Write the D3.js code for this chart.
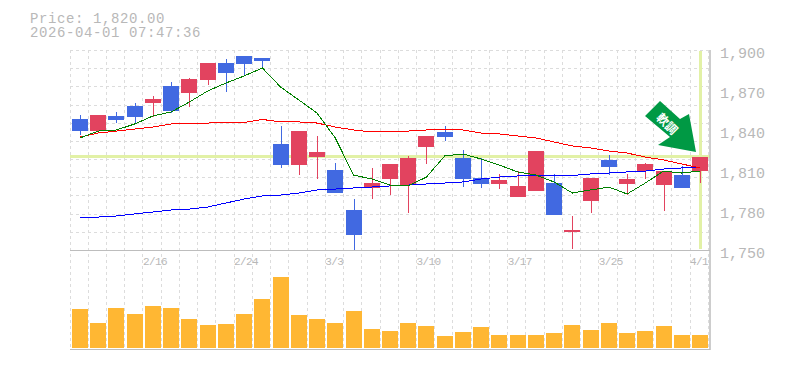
<!DOCTYPE html>
<html>
<head>
<meta charset="utf-8">
<script src="https://cdn.jsdelivr.net/npm/d3@7"></script>
<style>
    html, body { margin: 0; padding: 0; background: #fff; overflow: hidden; }
    svg { display: block; }
    text { font-family: "Liberation Mono", "DejaVu Sans Mono", monospace; fill: #b8b8b8; }
    .tickPrice text { font-size: 15px; }
    .tickDate text { font-size: 11px; letter-spacing: -0.6px; }
    .info { font-size: 14px; letter-spacing: 0.6px; }
</style>
</head>
<body>
<div id="chart"></div>
<script>
    const dates = ["2/9","2/10","2/12","2/13","2/16","2/17","2/18","2/19","2/20","2/24","2/25","2/26","2/27",
        "3/2","3/3","3/4","3/5","3/6","3/9","3/10","3/11","3/12","3/13","3/16","3/17","3/18","3/19",
        "3/23","3/24","3/25","3/26","3/27","3/30","3/31","4/1"];
    const dateLabels = ["2/16","2/24","3/3","3/10","3/17","3/25","4/1"];
    const priceTicks = [1750,1780,1810,1840,1870,1900];

    const opens = [1848.6,1839.6,1850.9,1858.4,1860.6,1873.4,1868.1,1877.9,1890.6,1895.9,1894.4,
        1829.9,1814.1,1820.1,1810.4,1780.4,1796.9,1803.6,1799.1,1827.6,1838.9,1819.4,1804.4,1799.9,1790.1,
        1794.6,1800.6,1763.9,1787.1,1817.9,1799.9,1809.6,1799.1,1806.6,1809.6];
    const closes = [1839.6,1851.6,1847.9,1850.1,1863.6,1854.6,1878.6,1890.6,1883.1,1889.9,1892.1,
        1814.1,1839.6,1823.9,1793.1,1761.6,1800.6,1814.9,1819.4,1835.9,1835.1,1803.6,1799.9,1802.9,1798.4,
        1824.6,1776.6,1765.4,1804.4,1812.6,1803.6,1814.9,1809.6,1796.9,1820];
    const highs = [1851.6,1851.6,1853.9,1860.6,1865.9,1876.4,1879.4,1890.6,1893.6,1895.9,1894.4,
        1843.4,1839.6,1835.9,1815.6,1788.6,1811.9,1814.9,1820.9,1835.9,1843.4,1825.4,1819.4,1807.4,1809.6,
        1824.6,1807.4,1775.9,1804.4,1821.6,1807.4,1815.6,1809.6,1813.4,1820];
    const lows = [1836.6,1838.1,1845.9,1844.9,1850.4,1853.4,1857.9,1874.1,1868.9,1881.6,1886.9,
        1811.9,1806.6,1803.6,1793.1,1750.4,1788.6,1791.6,1778.1,1814.9,1832.1,1797.6,1796.9,1796.1,1790.1,
        1794.6,1776.6,1751.1,1778.1,1806.6,1791.6,1803.6,1779.6,1796.9,1800.6];

    const maShort = [1834.4,1839.6,1840.4,1844.9,1850.9,1853.9,1861.4,1869.6,1875.6,1880.9,1886.9,1872.6,
        1862.9,1853.1,1834.4,1806.6,1803.6,1799.1,1798.4,1805.1,1820.9,1822.4,1818.6,1814.1,1808.9,
        1806.6,1801.4,1793.1,1795.4,1797.6,1792.4,1800.6,1809.6,1808.1,1809.6];
    const maMid = [1835.1,1838.1,1839.6,1841.1,1842.6,1844.9,1845.6,1845.6,1846,1846,1848.3,1846.4,
        1846.4,1845.6,1842.6,1840.4,1838.9,1838.9,1839.6,1840.4,1841.1,1840.4,1838.1,1837.4,1835.9,
        1834.4,1831.4,1828.4,1826.9,1824.6,1823.1,1820.1,1817.9,1814.9,1811.9];
    const maLong = [1774.4,1775.1,1775.9,1777.4,1778.9,1780.4,1781.1,1782.6,1785.6,1788.6,1790.9,1791.6,
        1793.1,1795.4,1796.1,1796.9,1797.6,1798.4,1799.1,1799.9,1800.6,1801.4,1803.6,1805.1,1805.9,
        1805.9,1805.9,1806.3,1807.4,1808.1,1808.9,1809.6,1811.1,1811.9,1812.6];

    const volumes = [39,25,40,34,42,40,29,23,24,34,49,71,33,29,25,37,19,17,
        25,22,12,16,21,13,13,13,15,23,18,25,15,17,22,13,13];

    const currentPrice = 1820;
    const priceText = "Price: 1,820.00";
    const timeText = "2026-04-01 07:47:36";
    const arrowText = "軟調";

    const up = "#e2435f", down = "#4169e1";
    const gridColor = "#dcdcdc", frameColor = "#bdbdbd", markColor = "#e2f1a6";
    const candleW = 16;

    let svg = d3.select("#chart")
        .append("svg")
        .attr("width", 785)
        .attr("height", 370);

    let x = d3.scalePoint().domain(dates).range([80, 700]);
    let y = d3.scaleLinear().domain([1750, 1900]).range([250.5, 50.5]);
    let yVol = d3.scaleLinear().domain([0, 98]).range([348, 250]);

    // the grid: price panel and volume panel share the verticals
    let gridXs = dates.map(d => Math.floor(x(d) - 10) + 0.5);
    gridXs.push(Math.floor(x("4/1") + x.step() - 10) + 0.5);
    let gridYs = d3.range(12).map(i => Math.round(y(1750 + i * 150 / 11) - 0.5) + 0.5);

    svg.append("g").selectAll("line")
        .data(gridXs)
        .join("line")
        .attr("x1", d => d).attr("x2", d => d)
        .attr("y1", 50).attr("y2", 350)
        .attr("stroke", gridColor)
        .attr("stroke-dasharray", "3,3");
    svg.append("g").selectAll("line")
        .data(gridYs.slice(1))
        .join("line")
        .attr("x1", 70).attr("x2", 710)
        .attr("y1", d => d).attr("y2", d => d)
        .attr("stroke", gridColor)
        .attr("stroke-dasharray", "3,3");

    // current price and date markers
    svg.append("rect")
        .attr("x", 70).attr("y", Math.round(y(currentPrice)) - 2)
        .attr("width", 640).attr("height", 3)
        .attr("fill", markColor);
    svg.append("rect")
        .attr("x", Math.round(x("4/1")) - 1).attr("y", 51)
        .attr("width", 3).attr("height", 198)
        .attr("fill", markColor);

    // frame
    [[70, 250.5, 710, 250.5], [70, 349.5, 710, 349.5], [710, 50, 710, 350]].forEach(p => {
        svg.append("line")
            .attr("x1", p[0]).attr("y1", p[1]).attr("x2", p[2]).attr("y2", p[3])
            .attr("stroke", frameColor).attr("stroke-width", p[0] == p[2] ? 1.5 : 1);
    });

    // candles
    let candles = svg.append("g").attr("shape-rendering", "crispEdges")
        .selectAll("g")
        .data(dates)
        .join("g");
    candles.append("line")
        .attr("x1", d => Math.round(x(d) - candleW / 2) + 8.5)
        .attr("x2", d => Math.round(x(d) - candleW / 2) + 8.5)
        .attr("y1", (d, i) => y(highs[i]))
        .attr("y2", (d, i) => y(lows[i]))
        .attr("stroke", (d, i) => closes[i] >= opens[i] ? up : down);
    candles.append("rect")
        .attr("x", d => Math.round(x(d) - candleW / 2))
        .attr("y", (d, i) => y(Math.max(opens[i], closes[i])))
        .attr("width", candleW)
        .attr("height", (d, i) => Math.abs(y(opens[i]) - y(closes[i])))
        .attr("fill", (d, i) => closes[i] >= opens[i] ? up : down);

    // moving averages
    let line = d3.line().x((d, i) => x(dates[i])).y(d => y(d));
    [[maLong, "#0000ff"], [maMid, "#ff0000"], [maShort, "#008000"]].forEach(s => {
        svg.append("path")
            .attr("d", line(s[0]))
            .attr("fill", "none")
            .attr("stroke", s[1])
            .attr("shape-rendering", "crispEdges");
    });

    // volume
    svg.append("g").selectAll("rect")
        .data(volumes)
        .join("rect")
        .attr("x", (d, i) => Math.round(x(dates[i]) - candleW / 2))
        .attr("y", d => yVol(d))
        .attr("width", candleW)
        .attr("height", d => yVol(0) - yVol(d))
        .attr("fill", "#ffb733");

    // axes
    let priceAxis = svg.append("g")
        .attr("class", "tickPrice")
        .attr("transform", "translate(710, 1)")
        .call(d3.axisRight(y).tickValues(priceTicks).tickFormat(d3.format(",")).tickSize(0).tickPadding(10));
    priceAxis.select(".domain").remove();
    priceAxis.selectAll("text").attr("dy", "0.42em");

    let dateAxis = svg.append("g")
        .attr("class", "tickDate")
        .attr("transform", "translate(0, 257)")
        .call(d3.axisBottom(x).tickValues(dateLabels).tickSize(0).tickPadding(0));
    dateAxis.select(".domain").remove();
    dateAxis.selectAll("text")
        .attr("text-anchor", "start")
        .attr("dx", -10.5)
        .attr("dy", "0.71em");

    // header
    svg.append("text").attr("class", "info").attr("x", 30).attr("y", 23).text(priceText);
    svg.append("text").attr("class", "info").attr("x", 30).attr("y", 37).text(timeText);

    // trend arrow
    svg.append("polygon")
        .attr("points", "660,101 645,116 670,137 658,145 696,152 689,114 680,119")
        .attr("fill", "#009944");
    svg.append("text")
        .attr("transform", "translate(667, 124) rotate(45)")
        .attr("text-anchor", "middle")
        .attr("dy", "0.35em")
        .style("font-family", "'Noto Sans CJK JP'")
        .style("font-weight", "bold")
        .style("font-size", "12px")
        .style("fill", "#fff")
        .text(arrowText);
</script>
</body>
</html>
